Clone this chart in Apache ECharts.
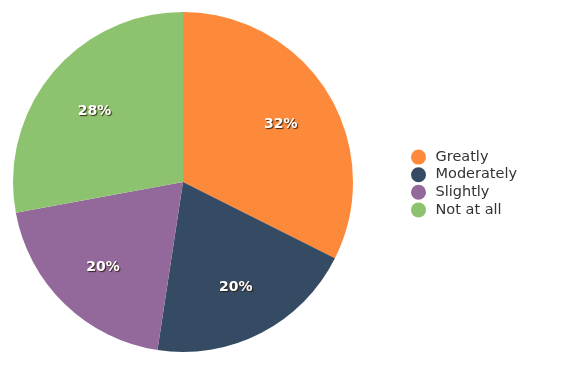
<!DOCTYPE html>
<html><head><meta charset="utf-8">
<script src="https://cdn.jsdelivr.net/npm/echarts@6/dist/echarts.min.js"></script>
<style>html,body{margin:0;padding:0;background:#fff}#c{width:568px;height:367px}</style>
</head><body><div id="c"></div>
<script>
const categories = ['Greatly', 'Moderately', 'Slightly', 'Not at all'];
const values = [32.4, 20.0, 19.7, 27.9];
const colors = ['#FD8A3B', '#354B64', '#93699B', '#8DC36E'];

const data = categories.map((n, i) => ({ name: n, value: values[i] }));
const chart = echarts.init(document.getElementById('c'));
chart.setOption({
  animation: false,
  color: colors,
  legend: {
    orient: 'vertical', left: 406, top: 'middle', icon: 'circle',
    itemWidth: 24, itemHeight: 15, itemGap: 2.6,
    textStyle: { fontFamily: 'DejaVu Sans', fontSize: 14.5, color: '#333' },
    data: categories
  },
  series: [
    {
      type: 'pie', center: [183, 182], radius: [0, 170], startAngle: 90, clockwise: true,
      data: data, label: { show: false }, labelLine: { show: false },
      itemStyle: { borderWidth: 0 }, silent: true
    },
    {
      type: 'pie', center: [183, 182], radius: [54, 170], startAngle: 90, clockwise: true,
      data: data, silent: true, labelLine: { show: false },
      itemStyle: { color: 'rgba(0,0,0,0)', borderWidth: 0 },
      label: {
        show: true, position: 'inside', offset: [0, 3],
        formatter: p => Math.round(p.value) + '%',
        color: '#fff', fontFamily: 'DejaVu Sans', fontWeight: 'bold', fontSize: 14,
        textShadowColor: 'rgba(40,20,0,0.85)', textShadowBlur: 1, textShadowOffsetX: 1, textShadowOffsetY: 1
      }
    }
  ]
});
</script></body></html>
